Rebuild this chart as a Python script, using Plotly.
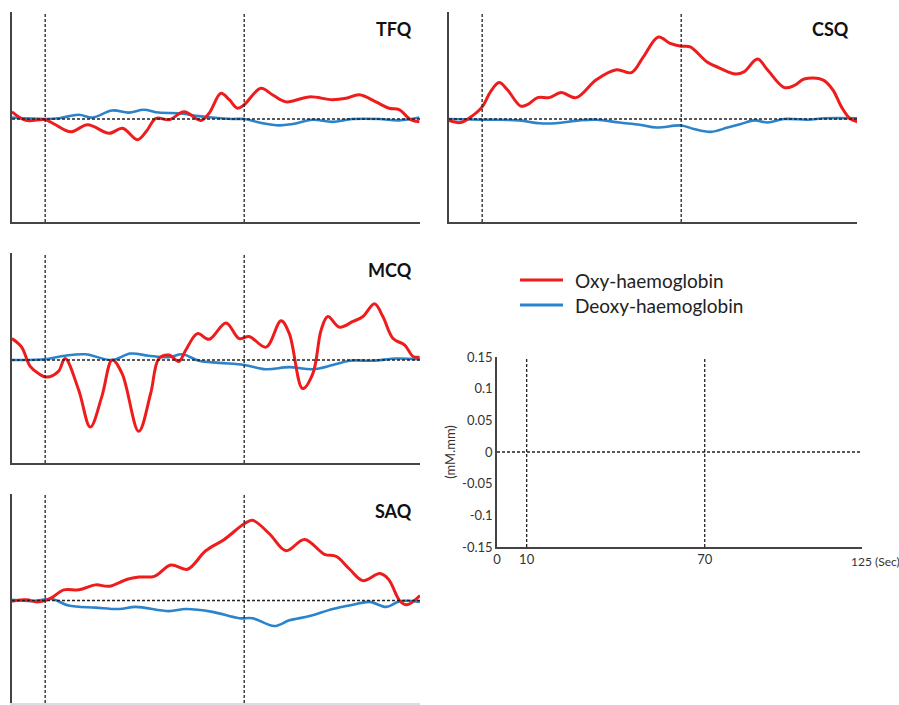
import plotly.graph_objects as go

# ---------------- data (time in s, concentration change in mM.mm) ----------------
tfq_oxy_t = [0, 4.2, 10, 12.7, 17.7, 22.8, 29.3, 33.3, 37.8, 40.4, 43.4, 47.4, 51.9, 56.9, 59.4,
             63.0, 65.5, 68.0, 70.0, 75.0, 78.5, 82.6, 89.6, 96.6, 100.7, 104.7, 109.7, 113.7,
             116.7, 120.2, 122.8]
tfq_oxy = [0.010, -0.002, -0.001, -0.007, -0.018, -0.008, -0.020, -0.013, -0.029, -0.018, 0.001,
           -0.001, 0.010, -0.002, 0.008, 0.036, 0.027, 0.015, 0.020, 0.043, 0.034, 0.024, 0.031,
           0.027, 0.029, 0.034, 0.024, 0.015, 0.013, -0.001, -0.004]
tfq_deoxy_t = [0, 10, 14.2, 20.2, 24.2, 30.2, 35.2, 39.7, 44.2, 50.2, 56.3, 60.3, 66.3, 70.0,
               74.6, 80.6, 84.6, 90.6, 96.6, 102.6, 110.7, 116.7, 122.8]
tfq_deoxy = [0.002, 0.000, 0.001, 0.006, 0.002, 0.012, 0.009, 0.013, 0.009, 0.008, 0.004, 0.002,
             0.000, 0.000, -0.005, -0.009, -0.007, -0.001, -0.004, 0.000, 0.000, -0.002, 0.002]

csq_oxy_t = [0, 3.4, 6.0, 10, 12.5, 15.1, 17.6, 21.6, 23.6, 26.7, 30.2, 33.8, 38.3, 44.4, 50.5,
             55.0, 58.6, 63.1, 66.7, 70.0, 72.7, 77.8, 81.8, 86.4, 88.9, 93.0, 96.0, 101.1,
             104.1, 107.1, 112.7, 115.7, 118.3, 120.8, 123.3]
csq_oxy = [-0.002, -0.005, 0.001, 0.017, 0.038, 0.051, 0.041, 0.018, 0.020, 0.030, 0.030, 0.037,
           0.030, 0.055, 0.069, 0.065, 0.087, 0.115, 0.106, 0.102, 0.101, 0.080, 0.071, 0.063,
           0.066, 0.084, 0.069, 0.044, 0.047, 0.056, 0.055, 0.041, 0.017, 0.001, -0.004]
csq_deoxy_t = [0, 10, 21.1, 27.2, 32.2, 39.3, 44.4, 51.4, 57.5, 62.6, 70.0, 73.8, 78.9, 84.0,
               88.0, 92.1, 96.1, 101.1, 108.2, 113.3, 123.3]
csq_deoxy = [0.000, -0.001, -0.002, -0.006, -0.006, -0.002, -0.001, -0.005, -0.008, -0.012,
             -0.009, -0.014, -0.018, -0.012, -0.007, -0.002, -0.005, 0.000, -0.001, 0.001, 0.001]

mcq_oxy_t = [0, 2.9, 5.5, 8.0, 10.5, 14.0, 16.0, 20.1, 23.6, 27.1, 30.2, 33.2, 38.2, 41.8, 44.3,
             47.3, 50.3, 52.4, 55.9, 59.4, 64.5, 68.5, 71.5, 76.6, 81.1, 83.6, 87.6, 90.7, 93.2,
             95.2, 98.7, 102.8, 105.8, 109.3, 111.8, 114.9, 118.4, 120.9, 122.9]
mcq_oxy = [0.030, 0.018, -0.009, -0.019, -0.024, -0.016, 0.002, -0.042, -0.094, -0.051, 0.000,
           -0.019, -0.100, -0.047, 0.002, 0.007, -0.002, 0.014, 0.037, 0.029, 0.052, 0.030, 0.033,
           0.018, 0.055, 0.037, -0.040, -0.019, 0.042, 0.061, 0.046, 0.054, 0.061, 0.079, 0.061,
           0.030, 0.021, 0.005, 0.004]
mcq_deoxy_t = [0, 10, 16.0, 22.1, 30.2, 35.7, 41.2, 47.3, 51.3, 56.3, 62.4, 70.0, 76.6, 83.6,
               90.7, 96.7, 101.8, 108.8, 115.9, 122.9]
mcq_deoxy = [0.000, 0.001, 0.006, 0.008, 0.000, 0.009, 0.006, 0.004, 0.008, -0.001, -0.004,
             -0.007, -0.013, -0.010, -0.013, -0.007, -0.001, -0.001, 0.002, 0.001]

saq_oxy_t = [0, 4.4, 7.5, 10, 12.0, 15.6, 20.2, 25.2, 29.3, 34.8, 38.3, 42.9, 47.9, 52.9, 58.4,
             64.0, 70.0, 72.5, 77.6, 82.6, 88.2, 94.2, 97.8, 101.8, 105.8, 110.9, 113.5, 117.0,
             119.1, 123.0]
saq_oxy = [-0.001, 0.001, -0.002, 0.000, 0.004, 0.015, 0.015, 0.022, 0.020, 0.030, 0.033, 0.034,
           0.050, 0.044, 0.070, 0.086, 0.108, 0.113, 0.094, 0.070, 0.086, 0.065, 0.062, 0.044,
           0.028, 0.038, 0.030, -0.001, -0.006, 0.007]
saq_deoxy_t = [0, 6.0, 12.0, 17.0, 25.2, 32.3, 37.3, 47.3, 52.4, 60.4, 68.5, 72.5, 79.1, 83.6,
               89.7, 96.7, 102.8, 107.8, 112.9, 116.9, 123.0]
saq_deoxy = [0.001, -0.001, 0.002, -0.007, -0.010, -0.012, -0.009, -0.015, -0.012, -0.016,
             -0.025, -0.025, -0.036, -0.028, -0.022, -0.012, -0.006, -0.002, -0.009, -0.001, -0.002]

panel_names = ["TFQ", "CSQ", "MCQ", "SAQ"]
stim_times = [10, 70]
ref_yticks = [0.15, 0.1, 0.05, 0, -0.05, -0.1, -0.15]
ref_yticklabels = ["0.15", "0.1", "0.05", "0", "-0.05", "-0.1", "-0.15"]
ref_xticks = [0, 10, 70]
ref_xticklabels = ["0", "10", "70"]
series_names = ["Oxy-haemoglobin", "Deoxy-haemoglobin"]

# ---------------- style ----------------
W, H = 899, 705
RED = "#ee1c1c"
BLUE = "#2b83cc"
AXC = "#444444"
XR = [0, 123]
YR_PANEL = [-0.1444, 0.15]
YR_REF = [-0.15, 0.15]


def px_x(a, b):
    return [a / W, b / W]


def px_y(top, bottom):
    return [1 - bottom / H, 1 - top / H]


panel_domains = {
    "TFQ": (px_x(12, 420), px_y(12, 222)),
    "CSQ": (px_x(449, 857), px_y(12, 222)),
    "MCQ": (px_x(12, 420), px_y(253, 463)),
    "SAQ": (px_x(12, 420), px_y(494, 703)),
}
panel_data = {
    "TFQ": (tfq_oxy_t, tfq_oxy, tfq_deoxy_t, tfq_deoxy),
    "CSQ": (csq_oxy_t, csq_oxy, csq_deoxy_t, csq_deoxy),
    "MCQ": (mcq_oxy_t, mcq_oxy, mcq_deoxy_t, mcq_deoxy),
    "SAQ": (saq_oxy_t, saq_oxy, saq_deoxy_t, saq_deoxy),
}

fig = go.Figure()
layout = dict(width=W, height=H, margin=dict(l=0, r=0, t=0, b=0, pad=0, autoexpand=False),
              paper_bgcolor="white", plot_bgcolor="white", showlegend=False,
              font=dict(family="Lato, Carlito, Open Sans, sans-serif", color="#333"))
shapes = []
annotations = []

for i, name in enumerate(panel_names, start=1):
    sfx = "" if i == 1 else str(i)
    xd, yd = panel_domains[name]
    ot, ov, dt, dv = panel_data[name]
    fig.add_trace(go.Scatter(x=dt, y=dv, mode="lines", name=series_names[1],
                             line=dict(color=BLUE, width=2.6, shape="spline", smoothing=1.0),
                             xaxis="x" + sfx, yaxis="y" + sfx))
    fig.add_trace(go.Scatter(x=ot, y=ov, mode="lines", name=series_names[0],
                             line=dict(color=RED, width=3, shape="spline", smoothing=1.0),
                             xaxis="x" + sfx, yaxis="y" + sfx))
    layout["xaxis" + sfx] = dict(domain=xd, range=XR, anchor="y" + sfx, showgrid=False,
                                 zeroline=False, showticklabels=False, ticks="", automargin=False,
                                 showline=True, linecolor=AXC if name != "SAQ" else "#dddddd",
                                 linewidth=1.5)
    layout["yaxis" + sfx] = dict(domain=yd, range=YR_PANEL, anchor="x" + sfx, showgrid=False,
                                 zeroline=False, showticklabels=False, ticks="", automargin=False,
                                 showline=True, linecolor=AXC, linewidth=1.5)
    xr, yr = "x" + sfx, "y" + sfx
    for t in stim_times:
        shapes.append(dict(type="line", xref=xr, yref=yr + " domain", x0=t, x1=t, y0=0, y1=1,
                           line=dict(color="#222", width=1.3, dash="3px,2px"), layer="above"))
    shapes.append(dict(type="line", xref=xr + " domain", yref=yr, x0=0, x1=1, y0=0, y1=0,
                       line=dict(color="#222", width=1.3, dash="3px,2px"), layer="above"))
    annotations.append(dict(text="<b>%s</b>" % name, xref=xr + " domain", yref=yr + " domain",
                            x=0.985, y=0.92, xanchor="right", yanchor="middle", showarrow=False,
                            font=dict(size=18, color="#111")))

# ---------------- reference scale panel ----------------
layout["xaxis5"] = dict(domain=px_x(497, 862), range=XR, anchor="y5", showgrid=False,
                        zeroline=False, tickmode="array", tickvals=ref_xticks, automargin=False,
                        ticktext=ref_xticklabels, ticks="", showline=True, linecolor=AXC,
                        linewidth=1.5, tickfont=dict(size=13, color="#333"))
layout["yaxis5"] = dict(domain=px_y(357, 547), range=YR_REF, anchor="x5", showgrid=False,
                        zeroline=False, tickmode="array", tickvals=ref_yticks, automargin=False,
                        ticktext=ref_yticklabels, ticks="", showline=True, linecolor=AXC,
                        linewidth=1.5, tickfont=dict(size=13, color="#333"),
                        title=dict(text="(mM.mm)", font=dict(size=13, color="#333"), standoff=4))
fig.add_trace(go.Scatter(x=[None], y=[None], xaxis="x5", yaxis="y5", showlegend=False))
for t in stim_times:
    shapes.append(dict(type="line", xref="x5", yref="y5 domain", x0=t, x1=t, y0=0, y1=1,
                       line=dict(color="#222", width=1.3, dash="3px,2px"), layer="above"))
shapes.append(dict(type="line", xref="x5 domain", yref="y5", x0=0, x1=1, y0=0, y1=0,
                   line=dict(color="#222", width=1.3, dash="3px,2px"), layer="above"))
annotations.append(dict(text="125 (Sec)", xref="paper", yref="paper", x=849 / W, y=1 - 561 / H,
                        xanchor="left", yanchor="middle", showarrow=False,
                        font=dict(size=12, color="#333")))

# ---------------- legend (drawn manually) ----------------
for k, (nm, col) in enumerate(zip(series_names, [RED, BLUE])):
    yy = 1 - (280 + 25 * k) / H
    shapes.append(dict(type="line", xref="paper", yref="paper", x0=520 / W, x1=563 / W,
                       y0=yy, y1=yy, line=dict(color=col, width=3)))
    annotations.append(dict(text=nm, xref="paper", yref="paper", x=573 / W, y=yy,
                            xanchor="left", yanchor="middle", showarrow=False,
                            font=dict(size=19, color="#222")))

layout["shapes"] = shapes
layout["annotations"] = annotations
fig.update_layout(**layout)
fig.write_html("out.html")
